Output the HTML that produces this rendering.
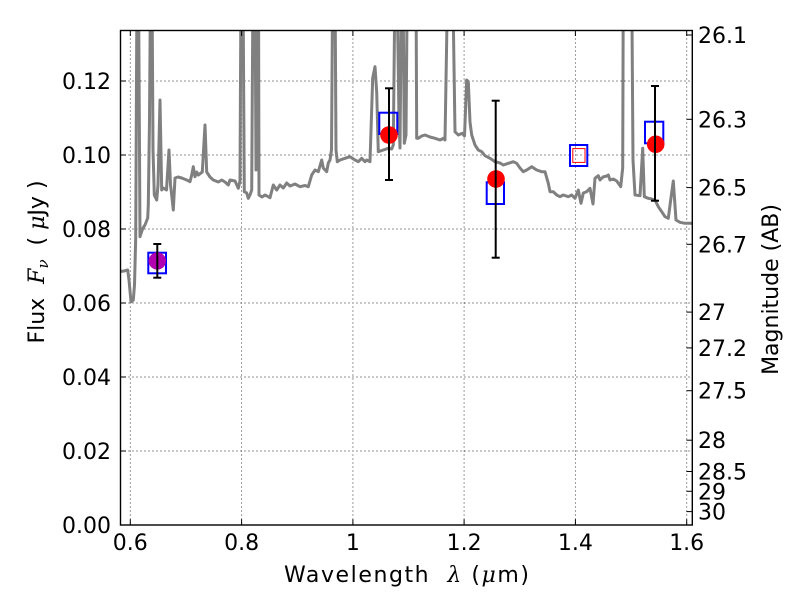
<!DOCTYPE html>
<html><head><meta charset="utf-8"><style>
html,body{margin:0;padding:0;background:#fff;}
svg{display:block;}
text{font-family:"DejaVu Sans","Liberation Sans",sans-serif;font-size:22px;fill:#000;}
.m{font-family:"DejaVu Serif","Liberation Serif",serif;font-style:italic;}
</style></head><body>
<svg width="800" height="600" viewBox="0 0 800 600" xmlns="http://www.w3.org/2000/svg">
<defs><clipPath id="c"><rect x="120.5" y="30.5" width="571.8" height="494.5"/></clipPath></defs>
<rect width="800" height="600" fill="#fff"/>
<!-- grid -->
<g stroke="#222" stroke-width="0.9" stroke-dasharray="1,3" fill="none">
<line x1="130.3" y1="30.5" x2="130.3" y2="525"/>
<line x1="241.6" y1="30.5" x2="241.6" y2="525"/>
<line x1="352.9" y1="30.5" x2="352.9" y2="525"/>
<line x1="464.1" y1="30.5" x2="464.1" y2="525"/>
<line x1="575.4" y1="30.5" x2="575.4" y2="525"/>
<line x1="686.7" y1="30.5" x2="686.7" y2="525"/>
<line x1="120.5" y1="451" x2="692.3" y2="451"/>
<line x1="120.5" y1="377" x2="692.3" y2="377"/>
<line x1="120.5" y1="303" x2="692.3" y2="303"/>
<line x1="120.5" y1="229" x2="692.3" y2="229"/>
<line x1="120.5" y1="155" x2="692.3" y2="155"/>
<line x1="120.5" y1="81" x2="692.3" y2="81"/>
</g>
<!-- spectrum -->
<g clip-path="url(#c)">
<polyline fill="none" stroke="#808080" stroke-width="3" stroke-linejoin="round" points="
120,271.5 124,271 127.7,270 129,280 131,301.7 133.3,300 134.5,285 135.7,238 137,-20 138.5,-20 140,236.7 141.5,232 143,228 145,225 147.7,218 148.3,205 149.5,120 150.5,-20 152,-20 153,150 154.3,195 156.7,200 158,185 160,100 161.7,190 163.3,188 166.5,190 169,150 170.5,185 172,198 173.3,210 175,178 178,177 181.7,178 186.7,180 190,181.7 191.7,175 193.3,166.7 195,176.7 196.7,172 198.3,175 202.3,172 205,125 206.7,172 210,177 213.3,180 218.3,182 221.7,180 225,182 228.3,185 230,180 235,181 238.3,188.3 240,181 241,-20 243,-20 244.3,191.7 246.7,193 248.3,198.3 250,195 251.7,190 253,-20 255,-20 256,170 257.3,-20 258.5,-20 259,195 262,197 265,195 267,196 270,197.7 273.3,185 276.7,190 280,185 283.3,188 286.7,183 290,186 295,184 300,186.7 305,185.5 308.3,186.7 311.7,175 315,170 318.3,171.7 321.7,160 323.3,168 326.7,171.7 328.3,163 330,160 331.5,150 332.7,-20 335,-20 336,150 337.3,161.7 340,160 345,158.3 350,156.7 355,160 358.3,161.7 361.7,158.3 365,161.7 366.7,160 370,161.7 372.7,78 375,66.7 376.7,92 378.3,151.7 383.3,150 388.3,148.3 391.7,149 393.3,145 395,-20 397,-20 399,120 400,148 401.5,-20 403,-20 404.3,143.3 406,135 407.3,-20 416,-20 416.7,138.3 418.3,138.3 421.7,136 425,135 430,137 435,138.3 440,140 443.3,138.3 445,140 447.7,-20 452.7,-20 455,131.7 458.3,135 462.3,133.3 464.5,136 466.7,80 468.3,81.7 470,122 471.7,135 475,145 478.3,150 481.7,151.7 485,155.7 490,158.3 495,161.7 500,163 503.3,165 508.3,163.3 513.3,161.7 516.7,163.3 520,168 523.3,171.7 526.7,170 531.7,166.7 536.7,170 541.7,171.7 545,171.7 548.3,183.3 550,191.7 553.3,191.7 556.7,195 560,196.7 563.3,195 568.3,196.7 571.7,195 575,198.3 578.3,190 581,203.3 583.3,193 586.7,191.7 590,188.3 593,204 595,178.3 598.3,175.7 600,180 603,177 606.7,176 608.3,175 610,180 613.3,179 616.7,181 620.7,186.7 622.7,168 623.3,-20 631.7,-20 633,160 635,195 640,195.7 642.7,148.3 644.3,196.7 648.3,198.3 651.7,199 655,200 658.3,206.7 661.7,211.7 665,216.7 668.3,218.3 670.7,200 673.3,181 676,220 680,222.3 685,223.3 692,223.3"/>
</g>
<!-- data points -->
<g fill="none" stroke="#0000ff" stroke-width="2">
<rect x="148.3" y="252.7" width="17.7" height="20.6"/>
<rect x="379.3" y="112.7" width="18" height="21.3"/>
<rect x="486.7" y="182.3" width="17.3" height="21.7"/>
<rect x="570" y="145" width="17.3" height="21"/>
<rect x="645" y="121.7" width="18.3" height="21.6"/>
</g>
<rect x="572.8" y="148.6" width="12.2" height="13.8" fill="none" stroke="#ff0000" stroke-width="1"/>
<circle cx="157.3" cy="261" r="8.7" fill="#b000b0"/>
<circle cx="389" cy="135" r="8.8" fill="#ff0000"/>
<circle cx="496" cy="179" r="8.8" fill="#ff0000"/>
<circle cx="655.7" cy="144.3" r="8.8" fill="#ff0000"/>
<g stroke="#000" stroke-width="2" fill="none">
<line x1="157.3" y1="244" x2="157.3" y2="277.7"/><line x1="153.3" y1="244" x2="161.3" y2="244"/><line x1="153.3" y1="277.7" x2="161.3" y2="277.7"/>
<line x1="389" y1="88.3" x2="389" y2="180"/><line x1="385" y1="88.3" x2="393" y2="88.3"/><line x1="385" y1="180" x2="393" y2="180"/>
<line x1="495.7" y1="100.7" x2="495.7" y2="257.7"/><line x1="491.7" y1="100.7" x2="499.7" y2="100.7"/><line x1="491.7" y1="257.7" x2="499.7" y2="257.7"/>
<line x1="655" y1="86" x2="655" y2="200.7"/><line x1="651" y1="86" x2="659" y2="86"/><line x1="651" y1="200.7" x2="659" y2="200.7"/>
</g>
<!-- ticks -->
<g stroke="#000" stroke-width="1">
<line x1="120.5" y1="451" x2="126" y2="451"/><line x1="120.5" y1="377" x2="126" y2="377"/><line x1="120.5" y1="303" x2="126" y2="303"/><line x1="120.5" y1="229" x2="126" y2="229"/><line x1="120.5" y1="155" x2="126" y2="155"/><line x1="120.5" y1="81" x2="126" y2="81"/>
<line x1="130.3" y1="525" x2="130.3" y2="519.5"/><line x1="241.6" y1="525" x2="241.6" y2="519.5"/><line x1="352.9" y1="525" x2="352.9" y2="519.5"/><line x1="464.1" y1="525" x2="464.1" y2="519.5"/><line x1="575.4" y1="525" x2="575.4" y2="519.5"/><line x1="686.7" y1="525" x2="686.7" y2="519.5"/>
<line x1="130.3" y1="30.5" x2="130.3" y2="36"/><line x1="241.6" y1="30.5" x2="241.6" y2="36"/><line x1="352.9" y1="30.5" x2="352.9" y2="36"/><line x1="464.1" y1="30.5" x2="464.1" y2="36"/><line x1="575.4" y1="30.5" x2="575.4" y2="36"/><line x1="686.7" y1="30.5" x2="686.7" y2="36"/>
<line x1="692.3" y1="35" x2="686.5" y2="35"/><line x1="692.3" y1="119.3" x2="686.5" y2="119.3"/><line x1="692.3" y1="187.6" x2="686.5" y2="187.6"/><line x1="692.3" y1="244.3" x2="686.5" y2="244.3"/><line x1="692.3" y1="312.1" x2="686.5" y2="312.1"/><line x1="692.3" y1="347.9" x2="686.5" y2="347.9"/><line x1="692.3" y1="390.7" x2="686.5" y2="390.7"/><line x1="692.3" y1="440.2" x2="686.5" y2="440.2"/><line x1="692.3" y1="471.5" x2="686.5" y2="471.5"/><line x1="692.3" y1="491.3" x2="686.5" y2="491.3"/><line x1="692.3" y1="511.6" x2="686.5" y2="511.6"/>
</g>
<rect x="120.5" y="30.5" width="571.8" height="494.5" fill="none" stroke="#000" stroke-width="1.4"/>
<!-- left labels -->
<g text-anchor="end">
<text x="111" y="533">0.00</text>
<text x="111" y="459">0.02</text>
<text x="111" y="385">0.04</text>
<text x="111" y="311">0.06</text>
<text x="111" y="237">0.08</text>
<text x="111" y="163">0.10</text>
<text x="111" y="89">0.12</text>
</g>
<!-- bottom labels -->
<g text-anchor="middle">
<text x="130.3" y="550">0.6</text>
<text x="241.6" y="550">0.8</text>
<text x="352.9" y="550">1</text>
<text x="464.1" y="550">1.2</text>
<text x="575.4" y="550">1.4</text>
<text x="686.7" y="550">1.6</text>
</g>
<!-- right labels -->
<g>
<text x="698" y="43">26.1</text>
<text x="698" y="127.3">26.3</text>
<text x="698" y="195.6">26.5</text>
<text x="698" y="252.3">26.7</text>
<text x="698" y="320.1">27</text>
<text x="698" y="355.9">27.2</text>
<text x="698" y="398.7">27.5</text>
<text x="698" y="448.2">28</text>
<text x="698" y="479.5">28.5</text>
<text x="698" y="499.3">29</text>
<text x="698" y="519.6">30</text>
</g>
<!-- axis labels -->
<text x="284" y="582" xml:space="preserve" textLength="245" lengthAdjust="spacing">Wavelength  <tspan class="m">λ</tspan> (<tspan class="m">μ</tspan>m)</text>
<text transform="translate(44,262) rotate(-90)" text-anchor="middle" xml:space="preserve">Flux  <tspan class="m">F</tspan><tspan class="m" font-size="15" dy="4">ν</tspan><tspan dy="-4">  ( </tspan><tspan class="m">μ</tspan>Jy )</text>
<text transform="translate(778,289.5) rotate(-90)" text-anchor="middle">Magnitude (AB)</text>
</svg>
</body></html>
